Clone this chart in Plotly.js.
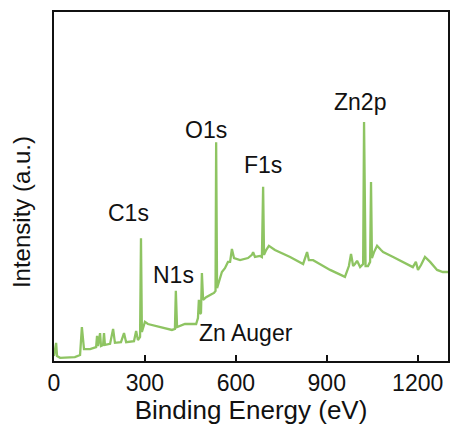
<!DOCTYPE html>
<html>
<head>
<meta charset="utf-8">
<script src="https://cdn.plot.ly/plotly-3.0.1.min.js"></script>
<style>html,body{margin:0;padding:0;background:#fff;}#chart{width:452px;height:425px;}</style>
</head>
<body>
<div id="chart"></div>
<script>
// XPS survey spectrum: binding energy (eV) and intensity (a.u.)
var bindingEnergy = [0, 7, 10, 20, 69, 86, 92, 99, 119, 139, 142, 145, 152, 155, 162, 165, 168, 185, 195, 201,
  221, 231, 238, 264, 271, 277, 284, 287, 290, 300, 310, 350, 389, 399, 402, 406, 432, 469, 475, 478,
  482, 485, 488, 492, 502, 521, 528, 533, 535, 538, 544, 554, 564, 574, 581, 587, 594, 614, 640, 653,
  657, 663, 680, 686, 690, 693, 700, 709, 729, 779, 822, 828, 835, 841, 855, 871, 911, 960, 973, 980,
  987, 993, 1000, 1010, 1016, 1020, 1023, 1028, 1036, 1043, 1046, 1049, 1056, 1066, 1079, 1086, 1119, 1158, 1184, 1194,
  1201, 1211, 1224, 1241, 1264, 1283, 1300];
var intensity = [1.4, 5.2, 1.4, 0.9, 1.1, 1.7, 9.7, 3.4, 3.4, 4.0, 7.2, 4.3, 8.0, 4.3, 4.6, 8.0, 4.6, 4.9, 9.2, 5.2,
  5.4, 8.0, 5.4, 5.7, 8.6, 6.0, 6.9, 35.2, 8.3, 11.2, 10.6, 9.7, 8.9, 9.2, 20.1, 9.7, 10.6, 10.6, 12.3, 17.5,
  13.5, 13.8, 25.2, 17.5, 18.3, 19.2, 19.5, 20.1, 62.7, 20.9, 22.6, 25.5, 26.6, 28.4, 28.4, 32.1, 29.5, 28.9, 29.5, 30.4,
  31.2, 29.8, 30.1, 29.8, 49.9, 30.4, 31.8, 33.0, 31.8, 29.8, 27.8, 29.5, 31.2, 28.9, 28.9, 28.1, 26.1, 24.1, 27.2, 30.7,
  27.2, 27.8, 28.7, 26.9, 27.5, 27.8, 68.5, 27.2, 27.2, 28.4, 51.3, 29.5, 31.2, 33.0, 31.8, 31.2, 29.8, 28.1, 26.9, 28.4,
  26.1, 27.5, 29.8, 28.4, 26.1, 25.5, 25.5];

var peakLabels = ["C1s", "N1s", "O1s", "F1s", "Zn2p", "Zn Auger"];
var labelX = [247, 393, 502, 690, 1010, 634];
var labelY = [42.4, 24.6, 66.2, 56.2, 74.2, 8.0];

var xTickVals = [0, 300, 600, 900, 1200];
var xTickText = ["0", "300", "600", "900", "1200"];

var FONT = "Liberation Sans, Arial, sans-serif";

var annotations = peakLabels.map(function (t, i) {
  return {x: labelX[i], y: labelY[i], xref: "x", yref: "y", text: t, showarrow: false,
    font: {family: FONT, size: 23, color: "#111"}, xanchor: "center", yanchor: "middle"};
});
annotations.push({
  x: -0.081, y: 0.427, xref: "paper", yref: "paper", text: "Intensity (a.u.)", showarrow: false,
  textangle: -90, xanchor: "center", yanchor: "middle",
  font: {family: FONT, size: 24, color: "#111"}
});

var trace = {
  x: bindingEnergy, y: intensity, type: "scatter", mode: "lines",
  line: {color: "#8ec462", width: 2.3}, hoverinfo: "skip"
};

var layout = {
  width: 452, height: 425,
  margin: {l: 54, r: 4, t: 12, b: 64},
  paper_bgcolor: "#fff", plot_bgcolor: "#fff",
  showlegend: false,
  font: {family: FONT, color: "#111"},
  xaxis: {
    range: [0, 1300], tickvals: xTickVals, ticktext: xTickText,
    ticks: "inside", ticklen: 6, tickwidth: 2, tickcolor: "#111",
    showline: true, linecolor: "#111", linewidth: 2, mirror: true,
    showgrid: false, zeroline: false,
    tickfont: {family: FONT, size: 23, color: "#111"},
    title: {text: "Binding Energy (eV)", font: {family: FONT, size: 26, color: "#111"}, standoff: 0}
  },
  yaxis: {
    range: [0, 100], showticklabels: false, ticks: "",
    showline: true, linecolor: "#111", linewidth: 2, mirror: true,
    showgrid: false, zeroline: false
  },
  annotations: annotations
};

Plotly.newPlot("chart", [trace], layout, {displayModeBar: false, staticPlot: true});
</script>
</body>
</html>
